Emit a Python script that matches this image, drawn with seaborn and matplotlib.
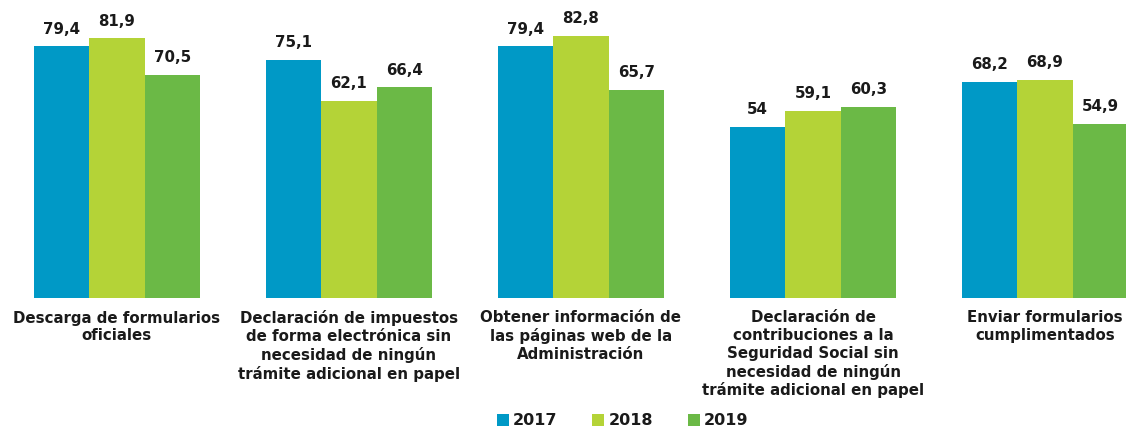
import matplotlib
matplotlib.use("Agg")
import matplotlib.pyplot as plt
import seaborn as sns
import pandas as pd

categories = [
    "Descarga de formularios\noficiales",
    "Declaración de impuestos\nde forma electrónica sin\nnecesidad de ningún\ntrámite adicional en papel",
    "Obtener información de\nlas páginas web de la\nAdministración",
    "Declaración de\ncontribuciones a la\nSeguridad Social sin\nnecesidad de ningún\ntrámite adicional en papel",
    "Enviar formularios\ncumplimentados",
]
years = ["2017", "2018", "2019"]
values_2017 = [79.4, 75.1, 79.4, 54.0, 68.2]
values_2018 = [81.9, 62.1, 82.8, 59.1, 68.9]
values_2019 = [70.5, 66.4, 65.7, 60.3, 54.9]
colors = ["#0099C6", "#B4D337", "#6BB946"]

rows = []
for y, vals in zip(years, [values_2017, values_2018, values_2019]):
    for c, v in zip(categories, vals):
        rows.append({"cat": c, "year": y, "val": v})
df = pd.DataFrame(rows)

sns.set_theme(style="white")
plt.rcParams["font.family"] = ["DejaVu Sans"]

fig = plt.figure(figsize=(11.26, 4.28), dpi=100)
ax = fig.add_axes([0, 130 / 428, 1, 298 / 428])
sns.barplot(data=df, x="cat", y="val", hue="year", palette=colors,
            width=0.716, saturation=1, ax=ax, legend=True, linewidth=0)

def fmt(v):
    if float(v).is_integer():
        return f"{int(v)}"
    return f"{v:.1f}".replace(".", ",")

for cont in ax.containers:
    ax.bar_label(cont, labels=[fmt(b.get_height()) for b in cont],
                 padding=7, fontsize=10.8, fontweight="bold", color="#1a1a1a")

ax.set_xlim(-0.504, 4.349)
ax.set_ylim(0, 94)
ax.set_xlabel("")
ax.set_ylabel("")
ax.set_yticks([])
ax.tick_params(axis="x", length=0, pad=9)
for lab in ax.get_xticklabels():
    lab.set_fontweight("bold")
    lab.set_fontsize(10.8)
    lab.set_color("#1a1a1a")
    lab.set_linespacing(1.22)
    lab.set_verticalalignment("top")
for s in ax.spines.values():
    s.set_visible(False)

handles, labels = ax.get_legend_handles_labels()
ax.get_legend().remove()
leg = fig.legend(handles, labels, loc="center", bbox_to_anchor=(0.553, 0.017),
                 ncol=3, frameon=False, handlelength=0.75, handleheight=0.75,
                 handletextpad=0.25, columnspacing=2.2,
                 prop={"weight": "bold", "size": 11.5})
for t in leg.get_texts():
    t.set_color("#1a1a1a")

fig.savefig("out.png", dpi=100)
